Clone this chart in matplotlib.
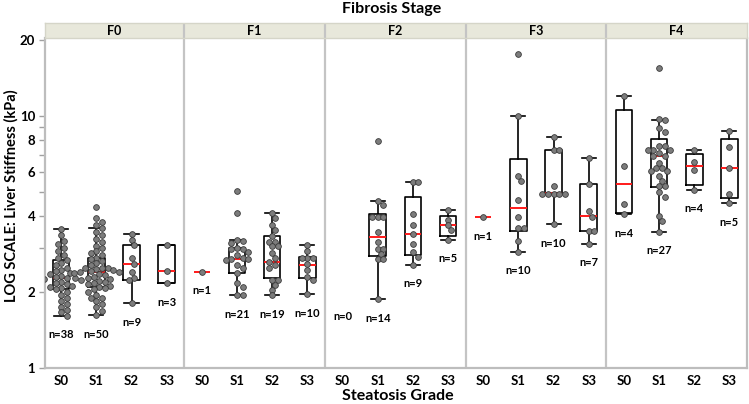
import numpy as np
import matplotlib
matplotlib.use("Agg")
import matplotlib.pyplot as plt

plt.rcParams['font.family'] = ['Lato', 'DejaVu Sans']
plt.rcParams['font.weight'] = 'bold'

# ---------------- data ----------------
fibrosis = ["F0", "F1", "F2", "F3", "F4"]
steatosis = ["S0", "S1", "S2", "S3"]

F0_S0 = [3.55, 3.35, 3.2, 3.1, 3.0, 2.9, 2.8, 2.72, 2.67, 2.6, 2.55, 2.5, 2.45, 2.42, 2.38,
         2.35, 2.32, 2.3, 2.28, 2.27, 2.26, 2.24, 2.2, 2.18, 2.15, 2.12, 2.1, 2.08, 2.05, 2.0,
         1.95, 1.9, 1.85, 1.8, 1.75, 1.7, 1.66, 1.61]
F0_S1 = [4.34, 3.94, 3.79, 3.68, 3.58, 3.45, 3.35, 3.25, 3.15, 3.05, 2.98, 2.9, 2.85, 2.8,
         2.74, 2.7, 2.65, 2.6, 2.55, 2.5, 2.48, 2.48, 2.47, 2.45, 2.42, 2.4, 2.39, 2.38, 2.36,
         2.33, 2.3, 2.28, 2.25, 2.22, 2.2, 2.18, 2.15, 2.12, 2.1, 2.08, 2.05, 2.0, 1.95, 1.9,
         1.9, 1.85, 1.8, 1.75, 1.68, 1.62]
F0_S2 = [3.39, 3.22, 3.08, 2.72, 2.59, 2.39, 2.28, 2.23, 1.81]
F0_S3 = [3.08, 2.42, 2.17]
F1_S0 = [2.41]
F1_S1 = [5.04, 4.13, 3.22, 3.18, 3.12, 2.99, 2.97, 2.95, 2.88, 2.80, 2.72, 2.70, 2.70, 2.68,
         2.56, 2.50, 2.37, 2.17, 2.10, 1.94, 1.94]
F1_S2 = [4.11, 3.92, 3.69, 3.53, 3.32, 3.17, 3.17, 3.03, 3.03, 2.85, 2.72, 2.64, 2.56, 2.49,
         2.23, 2.23, 2.13, 2.04, 1.94]
F1_S3 = [3.08, 2.92, 2.72, 2.72, 2.72, 2.58, 2.45, 2.30, 2.23, 1.96]
F2_S0 = []
F2_S1 = [7.91, 4.57, 4.43, 3.95, 3.95, 3.95, 3.45, 3.15, 2.97, 2.97, 2.83, 2.70, 2.70, 1.87]
F2_S2 = [5.47, 5.47, 4.09, 3.67, 3.39, 3.10, 2.88, 2.76, 2.57]
F2_S3 = [4.24, 3.87, 3.67, 3.51, 3.22]
F3_S0 = [3.96]
F3_S1 = [17.6, 9.94, 5.76, 5.50, 4.62, 3.98, 3.58, 3.58, 3.20, 2.89]
F3_S2 = [8.23, 7.33, 7.33, 5.24, 4.91, 4.91, 4.91, 4.91, 4.91, 3.72]
F3_S3 = [6.81, 5.37, 4.17, 3.98, 3.50, 3.50, 3.11]
F4_S0 = [11.93, 6.29, 4.46, 4.06]
F4_S1 = [15.4, 9.70, 9.58, 8.93, 8.58, 7.55, 7.55, 7.33, 7.33, 7.33, 7.11, 6.89, 6.89, 6.48,
         6.20, 6.20, 6.02, 6.02, 5.74, 5.49, 5.24, 5.24, 4.96, 4.78, 4.01, 3.84, 3.47]
F4_S2 = [7.33, 6.52, 6.11, 5.09]
F4_S3 = [8.72, 7.49, 6.20, 4.89, 4.50]

groups = [F0_S0, F0_S1, F0_S2, F0_S3,
          F1_S0, F1_S1, F1_S2, F1_S3,
          F2_S0, F2_S1, F2_S2, F2_S3,
          F3_S0, F3_S1, F3_S2, F3_S3,
          F4_S0, F4_S1, F4_S2, F4_S3]

# box statistics (None = no box)
box_q1  = [2.05, 2.10, 2.23, 2.17,  None, 2.37, 2.28, 2.28,  None, 2.78, 2.80, 3.34,  None, 3.50, 4.91, 3.50,  4.13, 5.19, 5.33, 4.71]
box_med = [2.27, 2.39, 2.59, 2.42,  2.41, 2.70, 2.64, 2.56,  None, 3.29, 3.39, 3.67,  3.96, 4.30, 4.93, 4.01,  5.37, 6.89, 6.29, 6.20]
box_q3  = [2.67, 2.74, 3.08, 3.08,  None, 2.99, 3.34, 2.75,  None, 4.07, 4.77, 4.00,  None, 6.73, 7.33, 5.37, 10.50, 8.10, 7.05, 8.08]
box_wlo = [1.61, 1.62, 1.81, 2.17,  None, 1.94, 1.94, 1.96,  None, 1.87, 2.57, 3.22,  None, 2.89, 3.72, 3.11,  4.06, 3.47, 5.09, 4.50]
box_whi = [3.55, 3.58, 3.39, 3.08,  None, 3.22, 4.11, 3.08,  None, 4.57, 5.47, 4.24,  None, 9.94, 8.23, 6.81, 11.93, 9.58, 7.33, 8.72]

yticks_major = [1, 2, 4, 6, 8, 10, 20]
yticks_minor = [3, 5, 7, 9]

# ---------------- layout ----------------
W, H, DPI = 749, 404, 100
fig = plt.figure(figsize=(W / DPI, H / DPI), dpi=DPI)
L, R, T, B = 45, 747, 38, 368
ax = fig.add_axes([L / W, 1 - B / H, (R - L) / W, (B - T) / H])
strip = fig.add_axes([L / W, 1 - T / H, (R - L) / W, 15 / H])

ax.set_yscale('log')
ax.set_ylim(1, 20.3)
ax.set_xlim(-0.46, 19.5)
strip.set_xlim(-0.46, 19.5)
strip.set_ylim(0, 1)

positions = np.arange(len(groups))
sep_color = '#c4c4c4'
for b in [3.5, 7.5, 11.5, 15.5]:
    ax.axvline(b, color=sep_color, lw=1.6, zorder=1)
    strip.axvline(b, color=sep_color, lw=1.6)

strip.set_facecolor('#e8e8db')
for s in strip.spines.values():
    s.set_color('#d5d5c8')
    s.set_linewidth(1.0)
strip.set_xticks([])
strip.set_yticks([])
for i, f in enumerate(fibrosis):
    strip.text(i * 4 + 1.5, 0.45, f, ha='center', va='center', fontsize=9,
               fontweight='bold')

for side in ['left', 'bottom', 'right']:
    ax.spines[side].set_color('#bdbdbd')
    ax.spines[side].set_linewidth(1.6)
ax.spines['top'].set_visible(False)

ax.set_yticks(yticks_major)
ax.set_yticklabels([str(v) for v in yticks_major])
ax.set_yticks(yticks_minor, minor=True)
ax.set_yticklabels([], minor=True)
ax.tick_params(axis='y', which='both', length=4, width=1, color='#a0a0a0',
               labelsize=9.5, pad=3)
ax.set_xticks(positions)
ax.set_xticklabels(steatosis * 5)
ax.tick_params(axis='x', length=0, labelsize=9.5, pad=5)
for lab in ax.get_xticklabels() + ax.get_yticklabels():
    lab.set_fontweight('bold')

# boxes
bw = 0.47
stats, pos_box = [], []
for i in range(len(groups)):
    if box_q1[i] is not None:
        stats.append(dict(q1=box_q1[i], med=box_med[i], q3=box_q3[i],
                          whislo=box_wlo[i], whishi=box_whi[i], fliers=[]))
        pos_box.append(positions[i])
ax.bxp(stats, positions=pos_box, widths=bw, showfliers=False, patch_artist=False,
       boxprops=dict(color='black', lw=1.2),
       whiskerprops=dict(color='black', lw=1.2),
       capprops=dict(color='black', lw=1.2),
       medianprops=dict(color='#ff1a1a', lw=1.4),
       capwidths=bw * 0.85, manage_ticks=False, zorder=3)
for i in range(len(groups)):
    if box_q1[i] is None and box_med[i] is not None:
        ax.hlines(box_med[i], positions[i] - bw / 2, positions[i] + bw / 2,
                  color='#ff1a1a', lw=1.4, zorder=3)

# beeswarm points (offsets computed in pixel space)
fig.canvas.draw()
trans = ax.transData
d = 5.6  # marker diameter in px
for i, vals in enumerate(groups):
    if not vals:
        continue
    vals_sorted = sorted(vals, reverse=True)
    placed = []
    xs_pix0 = trans.transform((positions[i], 1))[0]
    for v in vals_sorted:
        yp = trans.transform((positions[i], v))[1]
        best = None
        for k in range(0, 40):
            off = ((k + 1) // 2) * (d / 2) * (1 if k % 2 == 1 else -1)
            if k == 0:
                off = 0.0
            ok = all((off - px) ** 2 + (yp - py) ** 2 >= (d * 0.98) ** 2 for px, py in placed)
            if ok:
                best = off
                break
        placed.append((best, yp))
        xd = trans.inverted().transform((xs_pix0 + best, yp))[0]
        ax.scatter([xd], [v], s=17, facecolor='#7c7c7c', edgecolor='#3a3a3a',
                   linewidth=0.6, zorder=4)

# n labels
for i, vals in enumerate(groups):
    ylab = min(vals) * 0.84 if vals else 1.60
    ax.text(positions[i], ylab, f"n={len(vals)}", ha='center', va='center',
            fontsize=8, fontweight='bold')

fig.text(0.523, 1 - 9 / H, "Fibrosis Stage", ha='center', va='center',
         fontsize=11.5, fontweight='bold')
fig.text(0.531, 1 - 396 / H, "Steatosis Grade", ha='center', va='center',
         fontsize=11.5, fontweight='bold')
fig.text(11 / W, 1 - 196 / H, "LOG SCALE: Liver Stiffness (kPa)", ha='center',
         va='center', rotation=90, fontsize=10.5, fontweight='bold')

fig.savefig("out.png", dpi=DPI, facecolor='white')
